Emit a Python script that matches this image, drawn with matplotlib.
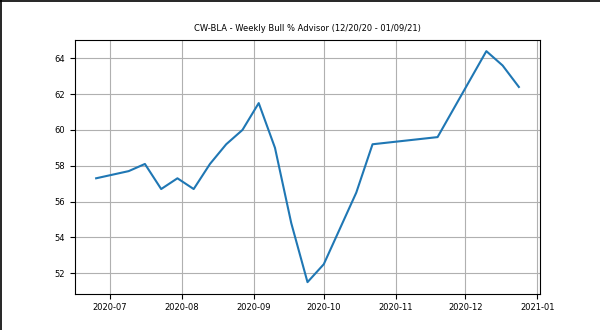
import matplotlib
matplotlib.use("Agg")
import matplotlib.pyplot as plt
import matplotlib.lines as mlines
import pandas as pd

# Weekly bull % readings (survey dates are Thursdays)
dates = [
    "2020-06-25", "2020-07-09", "2020-07-16", "2020-07-23", "2020-07-30",
    "2020-08-06", "2020-08-13", "2020-08-20", "2020-08-27", "2020-09-03",
    "2020-09-10", "2020-09-17", "2020-09-24", "2020-10-01", "2020-10-15",
    "2020-10-22", "2020-11-19", "2020-12-10", "2020-12-17", "2020-12-24",
]
bull_pct = [
    57.3, 57.7, 58.1, 56.7, 57.3,
    56.7, 58.1, 59.2, 60.0, 61.5,
    59.0, 54.8, 51.5, 52.5, 56.5,
    59.2, 59.6, 64.4, 63.6, 62.4,
]
title = "CW-BLA - Weekly Bull % Advisor (12/20/20 - 01/09/21)"

x = pd.to_datetime(dates)

fig, ax = plt.subplots(figsize=(6, 3.3), dpi=100)
fig.subplots_adjust(left=0.125, right=0.9, top=0.88, bottom=0.11)

ax.plot(x, bull_pct, color="#1f77b4", linewidth=1.5)
ax.set_title(title, fontsize=6)
ax.tick_params(axis="both", labelsize=6)
ax.grid(True, color="#b0b0b0", linewidth=0.8)

# thin frame along the top and left edges of the image
fig.add_artist(mlines.Line2D([0.001, 0.001], [0, 1], transform=fig.transFigure, color="black", linewidth=1.2))
fig.add_artist(mlines.Line2D([0, 1], [0.998, 0.998], transform=fig.transFigure, color="black", linewidth=1.2))

fig.savefig("out.png", dpi=100)
